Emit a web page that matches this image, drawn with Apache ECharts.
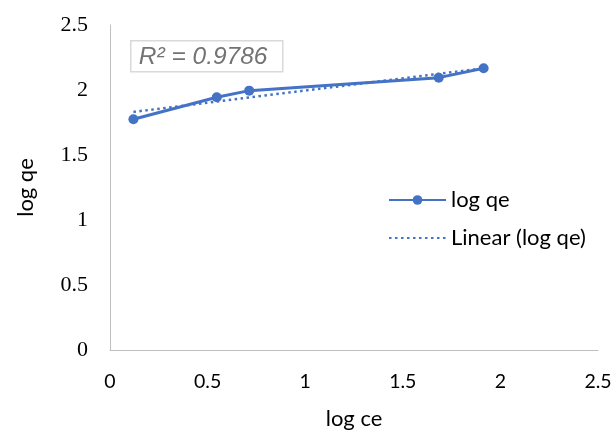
<!DOCTYPE html>
<html>
<head>
<meta charset="utf-8">
<script src="https://cdn.jsdelivr.net/npm/echarts@6/dist/echarts.min.js"></script>
<style>
  html, body { margin: 0; padding: 0; background: #fff; }
  #chart { width: 614px; height: 432px; }
</style>
</head>
<body>
<div id="chart"></div>
<script>
// Freundlich isotherm points: log ce vs log qe
const logCe = [0.12, 0.547, 0.713, 1.684, 1.914];
const logQe = [1.775, 1.944, 1.995, 2.095, 2.167];
const rSquaredText = 'R² = 0.9786';
const xTicks = { min: 0, max: 2.5, interval: 0.5 };
const yTicks = { min: 0, max: 2.5, interval: 0.5 };

// least-squares fit for the linear trendline
function linearFit(xs, ys) {
  const n = xs.length;
  const mx = xs.reduce((a, b) => a + b, 0) / n;
  const my = ys.reduce((a, b) => a + b, 0) / n;
  let sxy = 0, sxx = 0;
  for (let i = 0; i < n; i++) {
    sxy += (xs[i] - mx) * (ys[i] - my);
    sxx += (xs[i] - mx) * (xs[i] - mx);
  }
  const slope = sxy / sxx;
  return { slope, intercept: my - slope * mx };
}
const fit = linearFit(logCe, logQe);
const xFirst = logCe[0], xLast = logCe[logCe.length - 1];
const trend = [
  [xFirst, fit.intercept + fit.slope * xFirst],
  [xLast, fit.intercept + fit.slope * xLast]
];

const blue = '#4472C4';
const chart = echarts.init(document.getElementById('chart'));
chart.setOption({
  animation: false,
  grid: { left: 110, right: 16, top: 25, bottom: 82, outerBoundsMode: 'none', containLabel: false },
  xAxis: {
    type: 'value',
    min: xTicks.min, max: xTicks.max, interval: xTicks.interval,
    name: 'log ce', nameLocation: 'middle', nameGap: 58,
    nameTextStyle: { fontFamily: 'Lato', fontSize: 22, color: '#000' },
    axisLine: { show: true, lineStyle: { color: '#bfbfbf', width: 1 } },
    axisTick: { show: false },
    splitLine: { show: false },
    axisLabel: { fontFamily: 'Lato', fontSize: 19.5, color: '#000', margin: 22 }
  },
  yAxis: {
    type: 'value',
    min: yTicks.min, max: yTicks.max, interval: yTicks.interval,
    name: 'log qe', nameLocation: 'middle', nameGap: 73, nameRotate: 90,
    nameTextStyle: { fontFamily: 'Lato', fontSize: 22, color: '#000' },
    axisLine: { show: true, lineStyle: { color: '#bfbfbf', width: 1 } },
    axisTick: { show: false },
    splitLine: { show: false },
    axisLabel: { fontFamily: 'Liberation Serif', fontSize: 22, color: '#000', margin: 22 }
  },
  legend: {
    orient: 'vertical',
    left: 383, top: 184,
    itemWidth: 57, itemHeight: 12, itemGap: 16,
    textStyle: { fontFamily: 'Lato', fontSize: 22, lineHeight: 22, color: '#000' },
    data: [
      { name: 'log qe' },
      { name: 'Linear (log qe)', itemStyle: { opacity: 0 } }
    ]
  },
  series: [
    {
      name: 'log qe',
      type: 'line',
      data: logCe.map((x, i) => [x, logQe[i]]),
      symbol: 'circle', symbolSize: 10,
      lineStyle: { color: blue, width: 3 },
      itemStyle: { color: blue },
      z: 3
    },
    {
      name: 'Linear (log qe)',
      type: 'line',
      data: trend,
      symbol: 'none',
      lineStyle: { color: blue, width: 2.5, type: [2.5, 3.5] },
      itemStyle: { color: blue },
      z: 2
    }
  ],
  graphic: [{
    type: 'group', left: 130, top: 40,
    children: [
      { type: 'rect', shape: { x: 0, y: 0, width: 152, height: 31 },
        style: { fill: '#fff', stroke: '#d9d9d9', lineWidth: 1.5 } },
      { type: 'text', x: 8, y: 16,
        style: { text: rSquaredText, fontFamily: 'Liberation Sans', fontStyle: 'italic',
                 fontSize: 24.5, fill: '#737373', verticalAlign: 'middle' } }
    ]
  }]
});
</script>
</body>
</html>
